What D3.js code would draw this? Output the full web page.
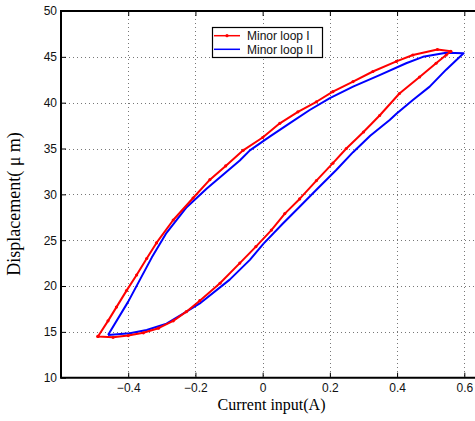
<!DOCTYPE html>
<html>
<head>
<meta charset="utf-8">
<script src="https://cdn.jsdelivr.net/npm/d3@7"></script>
<style>
  body { margin: 0; background: #fff; }
  svg { display: block; }
</style>
</head>
<body>
<div id="chart"></div>
<script>
// loop I (red, dotted markers): lower branch then upper branch back
const loop1X = [-0.49, -0.445, -0.40, -0.355, -0.31, -0.266, -0.227, -0.187, -0.127, -0.068, -0.02, 0.026, 0.066, 0.11, 0.16, 0.209, 0.249, 0.30, 0.348, 0.407, 0.467, 0.516, 0.546, 0.56,
                0.52, 0.447, 0.398, 0.328, 0.269, 0.209, 0.16, 0.105, 0.051, 0.0, -0.058, -0.11, -0.157, -0.207, -0.266, -0.316, -0.345, -0.375, -0.405, -0.435, -0.46, -0.49];
const loop1Y = [14.5, 14.4, 14.6, 14.9, 15.4, 16.2, 17.2, 18.4, 20.3, 22.5, 24.3, 26.1, 27.9, 29.5, 31.5, 33.4, 35.0, 36.8, 38.6, 41.0, 42.8, 44.3, 45.2, 45.6,
                45.8, 45.2, 44.5, 43.4, 42.3, 41.2, 40.1, 39.0, 37.75, 36.2, 34.8, 33.1, 31.6, 29.6, 27.2, 24.7, 23.0, 21.2, 19.5, 17.7, 16.2, 14.5];

// loop II (blue)
const loop2X = [-0.46, -0.395, -0.345, -0.286, -0.24, -0.187, -0.098, -0.038, 0.002, 0.061, 0.11, 0.16, 0.219, 0.269, 0.32, 0.378, 0.398, 0.447, 0.497, 0.546, 0.575, 0.598,
                0.546, 0.477, 0.427, 0.348, 0.269, 0.2, 0.14, 0.08, 0.021, -0.038, -0.068, -0.167, -0.226, -0.286, -0.33, -0.365, -0.40, -0.46];
const loop2Y = [14.65, 14.85, 15.2, 15.9, 16.9, 18.1, 20.7, 22.85, 24.6, 26.85, 28.65, 30.5, 32.65, 34.6, 36.4, 38.1, 38.8, 40.3, 41.75, 43.6, 44.6, 45.4,
                45.45, 45.0, 44.3, 43.0, 41.75, 40.5, 39.2, 37.75, 36.3, 34.8, 33.7, 30.6, 28.6, 25.8, 23.1, 20.7, 18.3, 14.65];

const seriesNames = ["Minor loop I", "Minor loop II"];
const xTicks = [-0.4, -0.2, 0, 0.2, 0.4, 0.6];
const yTicks = [10, 15, 20, 25, 30, 35, 40, 45, 50];

const W = 475, H = 421;
const plotLeft = 61, plotTop = 11, plotBottom = 377.7;
const plotRight = 482; // axes box runs past the window edge

const svg = d3.select("#chart").append("svg")
    .attr("width", W)
    .attr("height", H)
    .style("background", "#fff");

const x = d3.scaleLinear().domain([-0.6, 0.6]).range([plotLeft, 464.3]);
const y = d3.scaleLinear().domain([10, 50]).range([plotBottom, plotTop]);

// grid
const grid = svg.append("g")
    .attr("stroke", "#777")
    .attr("stroke-width", 1)
    .attr("stroke-dasharray", "1,3");
grid.selectAll(".gx").data(xTicks).join("line")
    .attr("x1", d => Math.round(x(d)) + 0.5).attr("x2", d => Math.round(x(d)) + 0.5)
    .attr("y1", plotTop).attr("y2", plotBottom);
grid.selectAll(".gy").data(yTicks.filter(d => d > 10 && d < 50)).join("line")
    .attr("x1", plotLeft).attr("x2", plotRight)
    .attr("y1", d => Math.round(y(d)) + 0.5).attr("y2", d => Math.round(y(d)) + 0.5);

// axes (inward ticks)
const xAxis = svg.append("g")
    .attr("transform", `translate(0,${plotBottom})`)
    .call(d3.axisBottom(x).tickValues(xTicks).tickSizeInner(-5).tickSizeOuter(0).tickPadding(6).tickFormat(d3.format("")));
const xAxisTop = svg.append("g")
    .attr("transform", `translate(0,${plotTop})`)
    .call(d3.axisTop(x).tickValues(xTicks).tickSizeInner(-5).tickSizeOuter(0).tickFormat(""));
const yAxis = svg.append("g")
    .attr("transform", `translate(${plotLeft},0)`)
    .call(d3.axisLeft(y).tickValues(yTicks).tickSizeInner(-5).tickSizeOuter(0).tickPadding(4));

[xAxis, xAxisTop, yAxis].forEach(a => {
    a.select(".domain").remove();
    a.selectAll(".tick line").attr("stroke", "#000");
    a.selectAll("text")
        .attr("fill", "#111")
        .style("font-family", "Liberation Sans, Arial, sans-serif")
        .style("font-size", "12px");
});

// frame
svg.append("path")
    .attr("d", `M${plotRight},${plotTop}H${plotLeft}V${plotBottom}H${plotRight}`)
    .attr("fill", "none")
    .attr("stroke", "#000")
    .attr("stroke-width", 2);

// curves
const line = d3.line().x(d => x(d[0])).y(d => y(d[1]));
const pts1 = loop1X.map((v, i) => [v, loop1Y[i]]);
const pts2 = loop2X.map((v, i) => [v, loop2Y[i]]);

svg.append("path").datum(pts2)
    .attr("d", line)
    .attr("fill", "none")
    .attr("stroke", "#0000ff")
    .attr("stroke-width", 2)
    .attr("stroke-linejoin", "round");

svg.append("path").datum(pts1)
    .attr("d", line)
    .attr("fill", "none")
    .attr("stroke", "#ff0000")
    .attr("stroke-width", 2)
    .attr("stroke-linejoin", "round");

svg.append("g").selectAll("circle").data(pts1).join("circle")
    .attr("cx", d => x(d[0]))
    .attr("cy", d => y(d[1]))
    .attr("r", 1.6)
    .attr("fill", "#ff0000");

// legend
const lg = svg.append("g");
lg.append("rect")
    .attr("x", 212.5).attr("y", 27.5)
    .attr("width", 110).attr("height", 30)
    .attr("fill", "#fff")
    .attr("stroke", "#000")
    .attr("stroke-width", 1.2);
const legendRows = [
    { name: seriesNames[0], color: "#ff0000", marker: true, yy: 35.7 },
    { name: seriesNames[1], color: "#0000ff", marker: false, yy: 49.3 }
];
legendRows.forEach(r => {
    lg.append("line")
        .attr("x1", 214).attr("x2", 240)
        .attr("y1", r.yy).attr("y2", r.yy)
        .attr("stroke", r.color)
        .attr("stroke-width", 1.5);
    if (r.marker) {
        lg.append("circle").attr("cx", 227).attr("cy", r.yy).attr("r", 1.6).attr("fill", r.color);
    }
    lg.append("text")
        .attr("x", 247).attr("y", r.yy)
        .attr("dy", "0.35em")
        .style("font-family", "Liberation Sans, Arial, sans-serif")
        .style("font-size", "12px")
        .attr("fill", "#111")
        .text(r.name);
});

// axis labels
svg.append("text")
    .attr("x", 271.5).attr("y", 410)
    .attr("text-anchor", "middle")
    .style("font-family", "Liberation Serif, Times New Roman, serif")
    .style("font-size", "16px")
    .text("Current input(A)");

svg.append("text")
    .attr("transform", "translate(20,204) rotate(-90)")
    .attr("text-anchor", "middle")
    .style("font-family", "Liberation Serif, Times New Roman, serif")
    .style("font-size", "18px")
    .text("Displacement( μ m)");
</script>
</body>
</html>
